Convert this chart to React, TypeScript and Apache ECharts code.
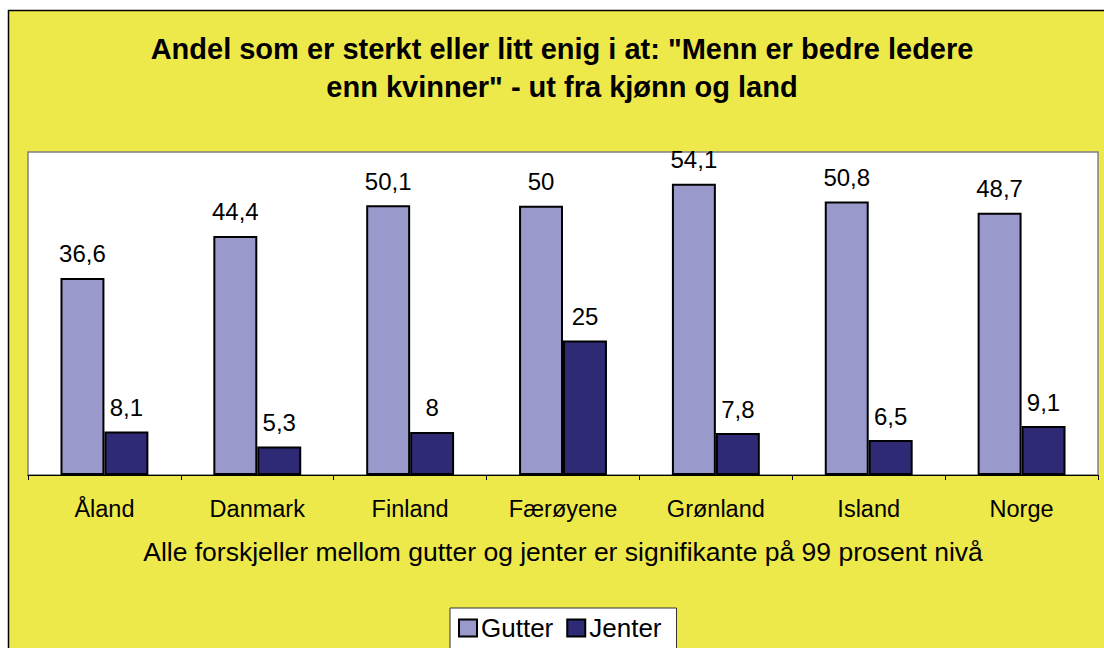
import React, { useEffect, useRef } from "react";
import * as echarts from "echarts";

const categories = ["Åland", "Danmark", "Finland", "Færøyene", "Grønland", "Island", "Norge"];
const gutter = [36.6, 44.4, 50.1, 50, 54.1, 50.8, 48.7];
const jenter = [8.1, 5.3, 8, 25, 7.8, 6.5, 9.1];
const titleLines = [
  'Andel som er sterkt eller litt enig i at: "Menn er bedre ledere',
  'enn kvinner" - ut fra kjønn og land',
];
const axisNote = "Alle forskjeller mellom gutter og jenter er signifikante på 99 prosent nivå";

const FONT = "'Liberation Sans', Arial, sans-serif";

export default function App() {
  const ref = useRef<HTMLDivElement>(null);
  useEffect(() => {
    if (!ref.current) return;
    const chart = echarts.init(ref.current, undefined, { renderer: "svg" });
    const fmt = (p: any) => String(p.value).replace(".", ",");
    chart.setOption({
      animation: false,
      backgroundColor: "#ffffff",
      textStyle: { fontFamily: FONT },
      graphic: [
        {
          type: "rect",
          z: -10,
          shape: { x: 8.5, y: 10.5, width: 1110, height: 660 },
          style: { fill: "#EEE94A", stroke: "#000000", lineWidth: 1.5 },
        },
        {
          type: "text",
          x: 562,
          y: 30,
          z: 10,
          style: {
            text: titleLines.join("\n"),
            font: `bold 29px ${FONT}`,
            fill: "#000",
            textAlign: "center",
            lineHeight: 38,
          },
        },
      ],
      grid: {
        left: 28,
        top: 152,
        right: 6,
        bottom: 173,
        show: true,
        backgroundColor: "#ffffff",
        borderColor: "#808080",
        borderWidth: 1.5,
      },
      legend: {
        left: 450,
        top: 608,
        backgroundColor: "#ffffff",
        borderColor: "#333",
        borderWidth: 1,
        padding: [7, 15, 20, 8],
        itemWidth: 18,
        itemHeight: 17,
        itemGap: 13,
        icon: "rect",
        itemStyle: { borderColor: "#000", borderWidth: 2 },
        textStyle: { fontSize: 26, color: "#000", fontFamily: FONT, padding: [0, 0, 0, -1] },
        data: ["Gutter", "Jenter"],
      },
      xAxis: {
        type: "category",
        data: categories,
        axisLine: { lineStyle: { color: "#000", width: 1 } },
        axisTick: { show: true, length: 5, lineStyle: { color: "#000" } },
        axisLabel: { fontSize: 23.5, color: "#000", margin: 22, fontFamily: FONT },
        name: axisNote,
        nameLocation: "middle",
        nameGap: 63,
        nameTextStyle: { fontSize: 26.5, color: "#000", fontFamily: FONT },
      },
      yAxis: {
        type: "value",
        min: 0,
        max: 60,
        show: false,
        splitLine: { show: false },
      },
      series: [
        {
          name: "Gutter",
          type: "bar",
          data: gutter,
          barGap: "0%",
          barCategoryGap: "42.5%",
          itemStyle: { color: "#9999CC", borderColor: "#000", borderWidth: 2 },
          label: { show: true, position: "top", distance: 12, fontSize: 24, color: "#000", formatter: fmt, fontFamily: FONT },
        },
        {
          name: "Jenter",
          type: "bar",
          data: jenter,
          itemStyle: { color: "#2E2A76", borderColor: "#000", borderWidth: 2 },
          label: { show: true, position: "top", distance: 12, fontSize: 24, color: "#000", formatter: fmt, fontFamily: FONT },
        },
      ],
    });
    return () => chart.dispose();
  }, []);
  return (
    <div
      ref={ref}
      style={{ position: "absolute", left: 0, top: 0, width: 1104, height: 648 }}
    />
  );
}
